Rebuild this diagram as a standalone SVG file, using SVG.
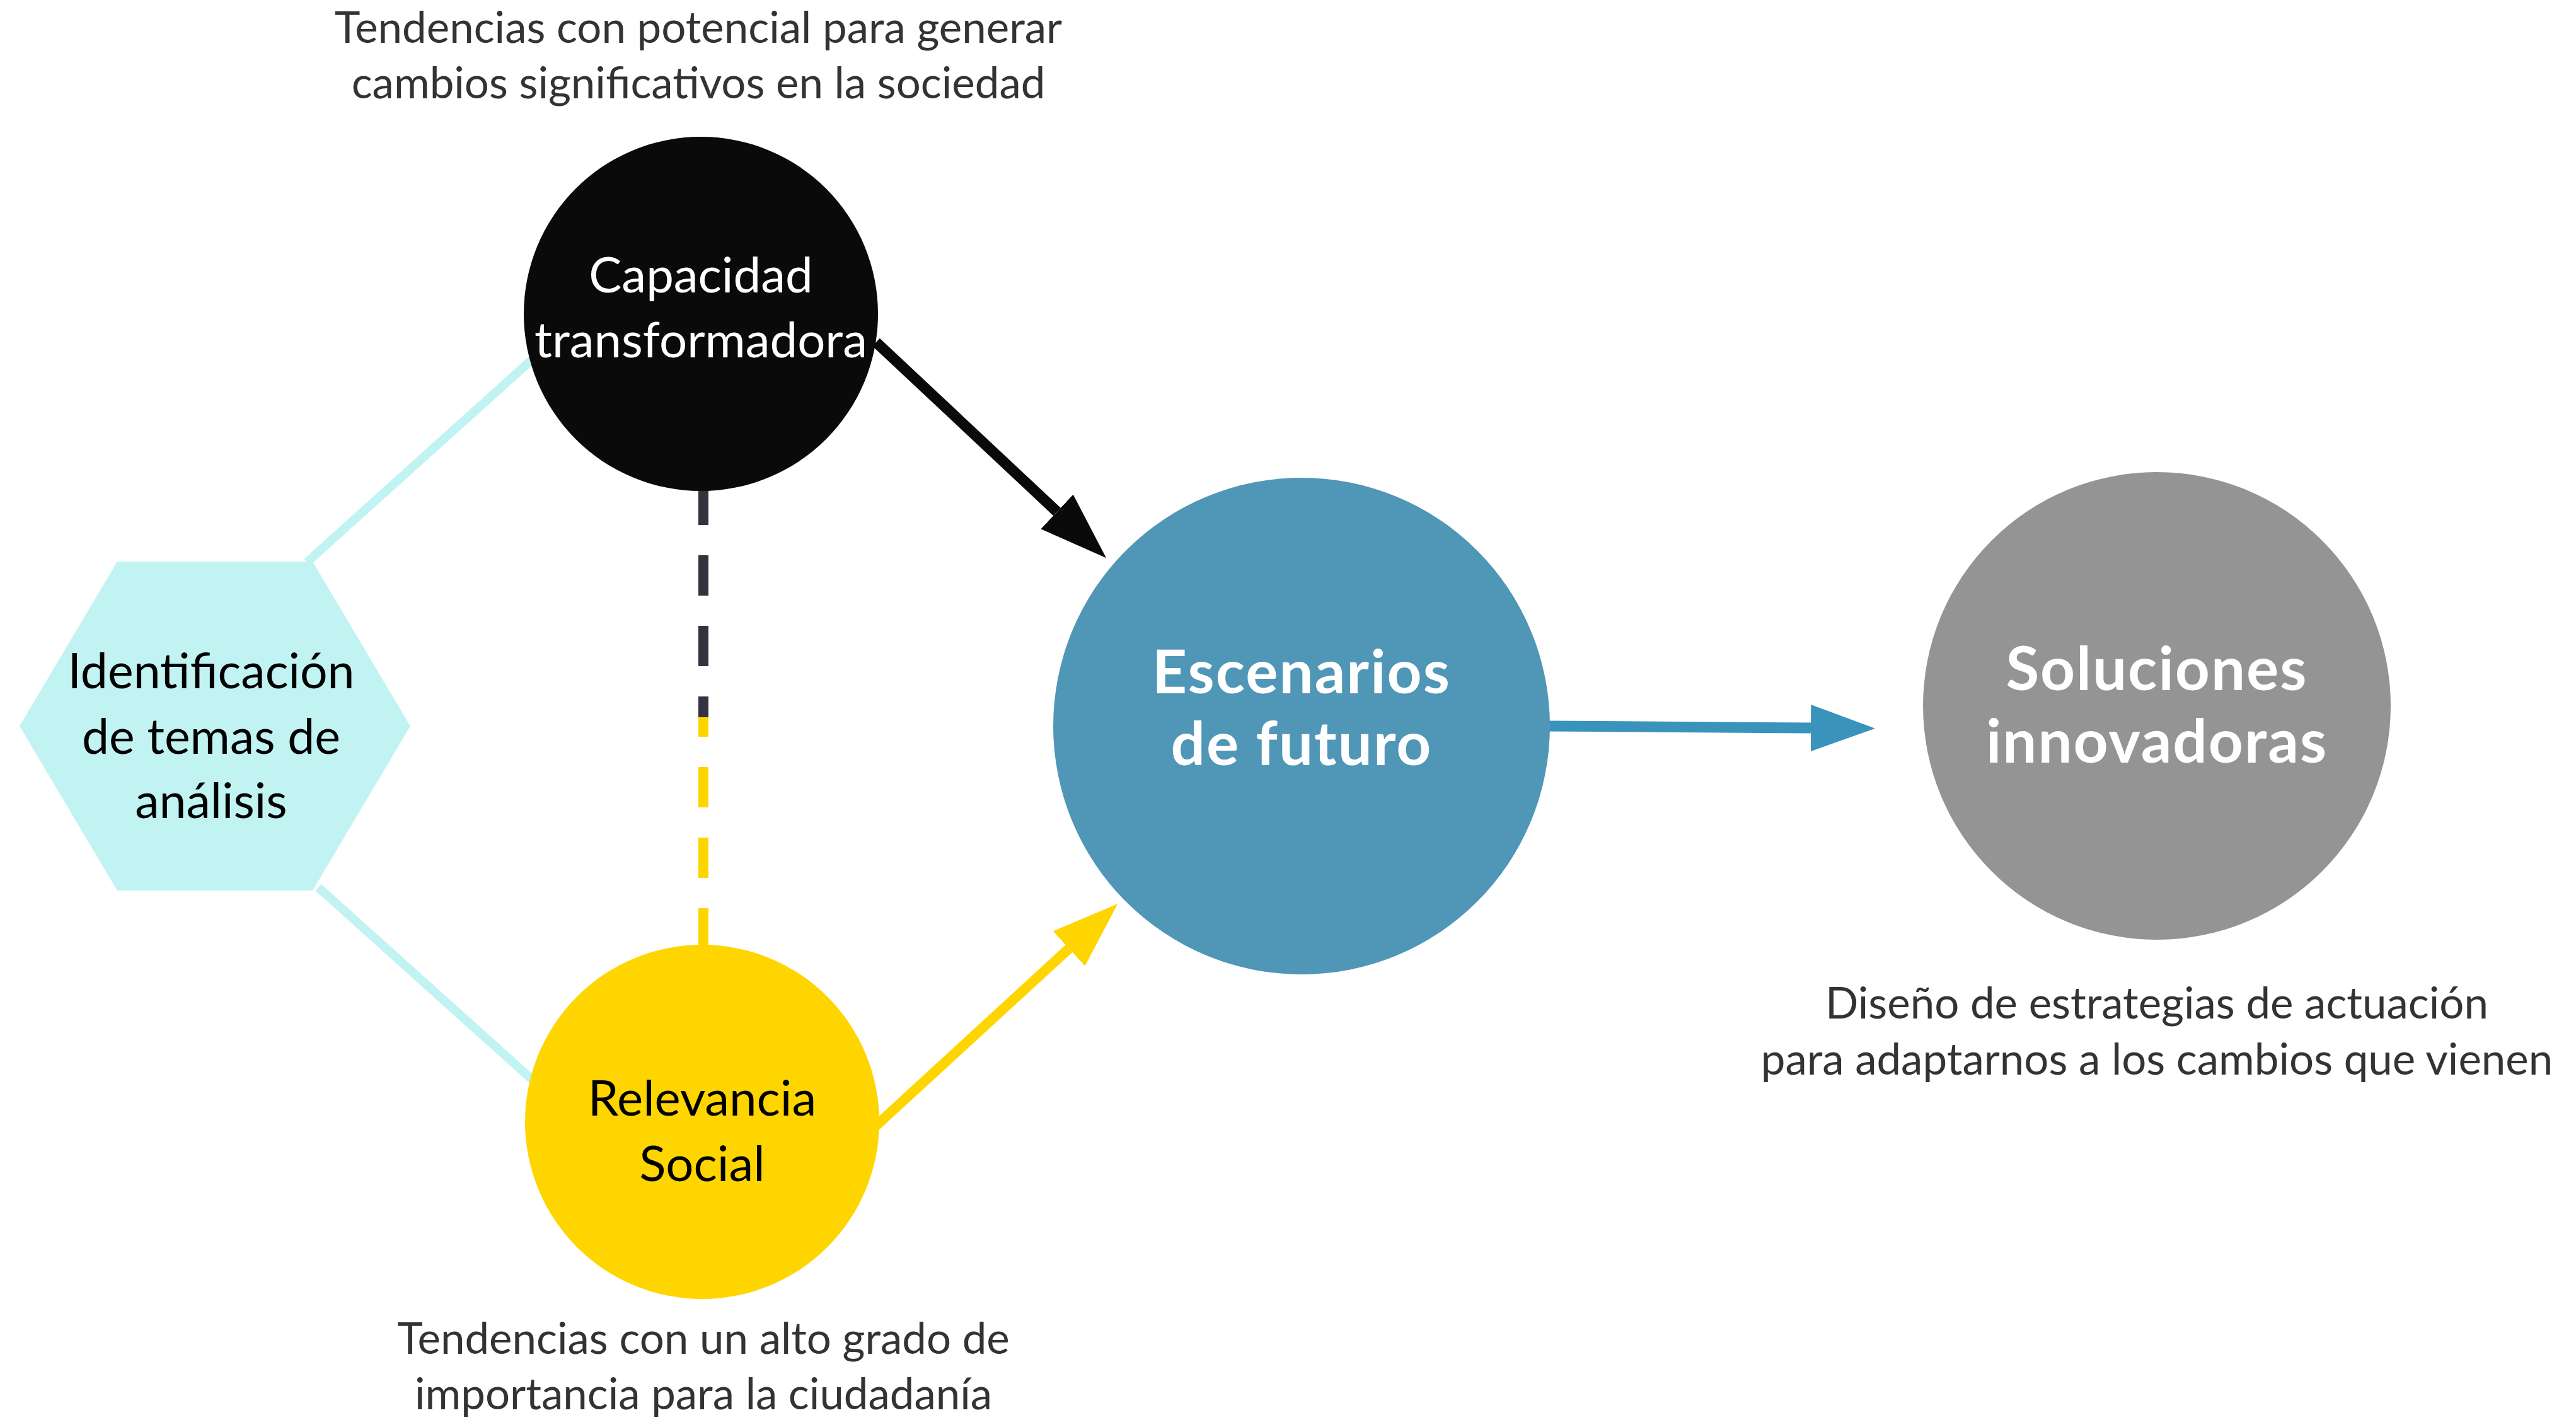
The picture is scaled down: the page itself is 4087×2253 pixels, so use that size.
<svg xmlns="http://www.w3.org/2000/svg" width="4087" height="2253" viewBox="0 0 4087 2253">
<style>
.note{font-family:Lato,"Liberation Sans",sans-serif;font-size:69px;fill:#333333;text-anchor:middle}
.lbl{font-family:Lato,"Liberation Sans",sans-serif;font-size:78px;text-anchor:middle}
.hex{font-family:Lato,"Liberation Sans",sans-serif;font-size:77px;text-anchor:middle;fill:#000000}
.big{font-family:Lato,"Liberation Sans",sans-serif;font-size:96px;font-weight:bold;fill:#ffffff;text-anchor:middle;letter-spacing:2px}
.link{stroke:#c2f3f3;stroke-width:14;fill:none}
</style>
<defs>
<marker id="hk" markerUnits="userSpaceOnUse" markerWidth="110" markerHeight="80" refX="0" refY="37.5" orient="auto"><path d="M0,0 L107,37.5 L0,75 z" fill="#0a0a0a"/></marker>
<marker id="hy" markerUnits="userSpaceOnUse" markerWidth="110" markerHeight="80" refX="0" refY="37.5" orient="auto"><path d="M0,0 L105,37.5 L0,75 z" fill="#ffd500"/></marker>
<marker id="hb" markerUnits="userSpaceOnUse" markerWidth="110" markerHeight="80" refX="0" refY="37" orient="auto"><path d="M0,0 L102,37 L0,74 z" fill="#3a93ba"/></marker>
</defs>
<rect width="4087" height="2253" fill="#ffffff"/>
<g id="connectors">
<line class="link" x1="487" y1="892" x2="900" y2="520"/>
<line class="link" x1="505" y1="1408" x2="880" y2="1745"/>
<line x1="1116" y1="769" x2="1116" y2="1138" stroke="#35323f" stroke-width="16" stroke-dasharray="64 48"/>
<line x1="1116" y1="1138" x2="1116" y2="1505" stroke="#ffd500" stroke-width="16" stroke-dasharray="64 48" stroke-dashoffset="33"/>
<line x1="1390" y1="543" x2="1677" y2="812" stroke="#0a0a0a" stroke-width="17" marker-end="url(#hk)"/>
<line x1="1390" y1="1786" x2="1696" y2="1505" stroke="#ffd500" stroke-width="16" marker-end="url(#hy)"/>
<line x1="2455" y1="1152" x2="2873" y2="1155" stroke="#3a93ba" stroke-width="17" marker-end="url(#hb)"/>
</g>
<g id="node-identificacion">
<polygon points="31,1152 186,891 496,891 651,1152 496,1413 186,1413" fill="#c2f3f3"/>
<text class="hex" x="335" y="1092">Identificación</text>
<text class="hex" x="335" y="1196">de temas de</text>
<text class="hex" x="335" y="1298">análisis</text>
</g>
<g id="node-capacidad">
<circle cx="1112" cy="498" r="281" fill="#0a0a0a"/>
<text class="lbl" x="1112" y="464" fill="#ffffff">Capacidad</text>
<text class="lbl" x="1112" y="567" fill="#ffffff">transformadora</text>
</g>
<g id="note-capacidad">
<text class="note" x="1108" y="68">Tendencias con potencial para generar</text>
<text class="note" x="1108" y="156">cambios significativos en la sociedad</text>
</g>
<g id="node-relevancia">
<circle cx="1114" cy="1780" r="281" fill="#ffd500"/>
<text class="lbl" x="1114" y="1770" fill="#000000">Relevancia</text>
<text class="lbl" x="1114" y="1874" fill="#000000">Social</text>
</g>
<g id="note-relevancia">
<text class="note" x="1116" y="2148">Tendencias con un alto grado de</text>
<text class="note" x="1116" y="2236">importancia para la ciudadanía</text>
</g>
<g id="node-escenarios">
<circle cx="2065" cy="1152" r="394" fill="#5096b6"/>
<text class="big" x="2065" y="1100">Escenarios</text>
<text class="big" x="2065" y="1214">de futuro</text>
</g>
<g id="node-soluciones">
<circle cx="3422" cy="1120" r="371" fill="#949494"/>
<text class="big" x="3422" y="1095">Soluciones</text>
<text class="big" x="3422" y="1210">innovadoras</text>
</g>
<g id="note-soluciones">
<text class="note" x="3422" y="1616">Diseño de estrategias de actuación</text>
<text class="note" x="3422" y="1705">para adaptarnos a los cambios que vienen</text>
</g>
</svg>
